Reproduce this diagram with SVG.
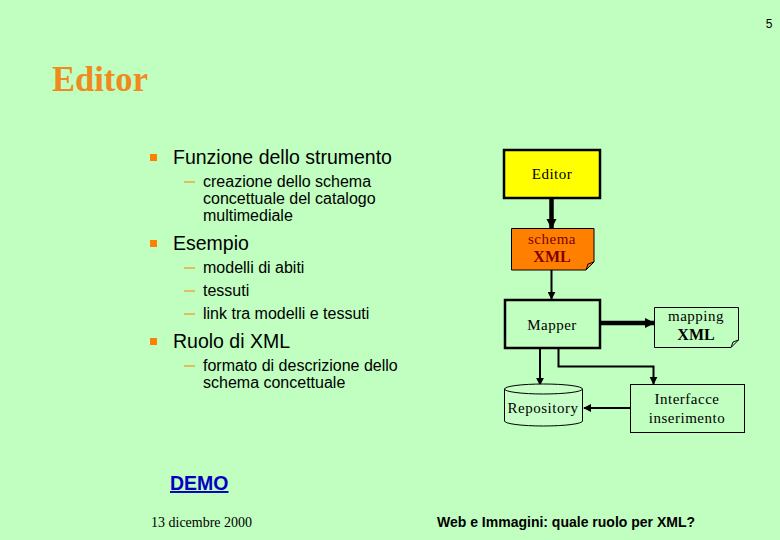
<svg xmlns="http://www.w3.org/2000/svg" width="780" height="540" viewBox="0 0 780 540">
<defs>
<style>
.sans{font-family:"Liberation Sans",Arial,sans-serif;fill:#000}
.serif{font-family:"Liberation Serif","Times New Roman",serif;fill:#000}
.b1{font-size:19.5px}
.b2{font-size:16px}
.dash{stroke:#ff8000;stroke-width:1}
.node{font-family:"Liberation Serif","Times New Roman",serif;font-size:15px;letter-spacing:0.5px;text-anchor:middle;fill:#000}
.xml{font-size:16px;font-weight:bold;letter-spacing:0}
.conn{fill:none;stroke:#000;stroke-width:2}
.thick{fill:none;stroke:#000;stroke-width:4.5}
</style>
<marker id="ah" viewBox="0 0 10 10" refX="9" refY="5" markerWidth="4" markerHeight="4" markerUnits="strokeWidth" orient="auto"><path d="M0,0 L10,5 L0,10 z" fill="#000"/></marker>
<marker id="ahT" viewBox="0 0 10 10" refX="9" refY="5" markerWidth="2.3" markerHeight="2.3" markerUnits="strokeWidth" orient="auto"><path d="M0,0 L10,5 L0,10 z" fill="#000"/></marker>
</defs>
<rect width="780" height="540" fill="#c0ffc0"/>
<text x="769" y="28" class="sans" font-size="12" text-anchor="middle">5</text>
<text x="52" y="91" font-family="'Liberation Serif','Times New Roman',serif" font-weight="bold" font-size="36" fill="#f08a1c" textLength="96" lengthAdjust="spacingAndGlyphs">Editor</text>

<g id="bullets">
<rect x="150" y="154" width="7" height="7" fill="#ff8000"/>
<text x="173" y="164" class="sans b1">Funzione dello strumento</text>
<line x1="184" y1="182" x2="195" y2="182" class="dash"/>
<text x="203" y="187" class="sans b2">creazione dello schema</text>
<text x="203" y="204" class="sans b2">concettuale del catalogo</text>
<text x="203" y="221" class="sans b2">multimediale</text>
<rect x="150" y="240" width="7" height="7" fill="#ff8000"/>
<text x="173" y="250" class="sans b1">Esempio</text>
<line x1="184" y1="268" x2="195" y2="268" class="dash"/>
<text x="203" y="273" class="sans b2">modelli di abiti</text>
<line x1="184" y1="291" x2="195" y2="291" class="dash"/>
<text x="203" y="296" class="sans b2">tessuti</text>
<line x1="184" y1="314" x2="195" y2="314" class="dash"/>
<text x="203" y="319" class="sans b2">link tra modelli e tessuti</text>
<rect x="150" y="338" width="7" height="7" fill="#ff8000"/>
<text x="173" y="348" class="sans b1">Ruolo di XML</text>
<line x1="184" y1="366" x2="195" y2="366" class="dash"/>
<text x="203" y="371" class="sans b2">formato di descrizione dello</text>
<text x="203" y="388" class="sans b2">schema concettuale</text>
</g>

<g id="connectors">
<line x1="551.5" y1="199" x2="551.5" y2="228" class="thick" marker-end="url(#ahT)"/>
<line x1="551.5" y1="270" x2="551.5" y2="299" class="conn" marker-end="url(#ah)"/>
<line x1="601" y1="323" x2="654" y2="323" class="thick" marker-end="url(#ahT)"/>
<line x1="540" y1="349" x2="540" y2="385" class="conn" marker-end="url(#ah)"/>
<polyline points="558.5,349 558.5,366.5 653.5,366.5 653.5,384" class="conn" stroke-width="1.5" marker-end="url(#ah)"/>
<line x1="630" y1="408" x2="584" y2="408" class="conn" marker-end="url(#ah)"/>
</g>

<g id="editor">
<rect x="504" y="150" width="96" height="48" fill="#ffff00" stroke="#000" stroke-width="2.5"/>
<text x="552" y="179" class="node">Editor</text>
</g>
<g id="schema">
<path d="M511.5,228.5 H594 V262 L586,270 H511.5 Z" fill="#ff8000" stroke="#000" stroke-width="1"/>
<path d="M586,270 L588,264 L594,262" fill="none" stroke="#000" stroke-width="1"/>
<text x="552" y="244" class="node" style="fill:#800000">schema</text>
<text x="552" y="262" class="node xml" style="fill:#800000">XML</text>
</g>
<g id="mapper">
<rect x="505" y="300" width="95" height="48" fill="none" stroke="#000" stroke-width="2.5"/>
<text x="552" y="330" class="node">Mapper</text>
</g>
<g id="mapping">
<path d="M654.5,307.5 H738.5 V340 L731,347.5 H654.5 Z" fill="none" stroke="#000" stroke-width="1"/>
<path d="M731,347.5 L733,342 L738.5,340" fill="none" stroke="#000" stroke-width="1"/>
<text x="696" y="321" class="node">mapping</text>
<text x="696" y="340" class="node xml">XML</text>
</g>
<g id="repository">
<path d="M504.5,389 V421 A39,5 0 0 0 582.5,421 V389" fill="#c8ffc8" stroke="#000" stroke-width="1"/>
<ellipse cx="543.5" cy="389" rx="39" ry="5" fill="#c8ffc8" stroke="#000" stroke-width="1"/>
<text x="543" y="413" class="node">Repository</text>
</g>
<g id="interfacce">
<rect x="630.5" y="384.5" width="114" height="48" fill="none" stroke="#000" stroke-width="1"/>
<text x="687" y="404" class="node">Interfacce</text>
<text x="687" y="423" class="node">inserimento</text>
</g>

<text x="170" y="490" class="sans" font-size="19.5" font-weight="bold" style="fill:#0000c0" text-decoration="underline">DEMO</text>
<text x="151" y="527" class="serif" font-size="14">13 dicembre 2000</text>
<text x="437" y="527" class="sans" font-size="14" font-weight="bold">Web e Immagini: quale ruolo per XML?</text>
</svg>
